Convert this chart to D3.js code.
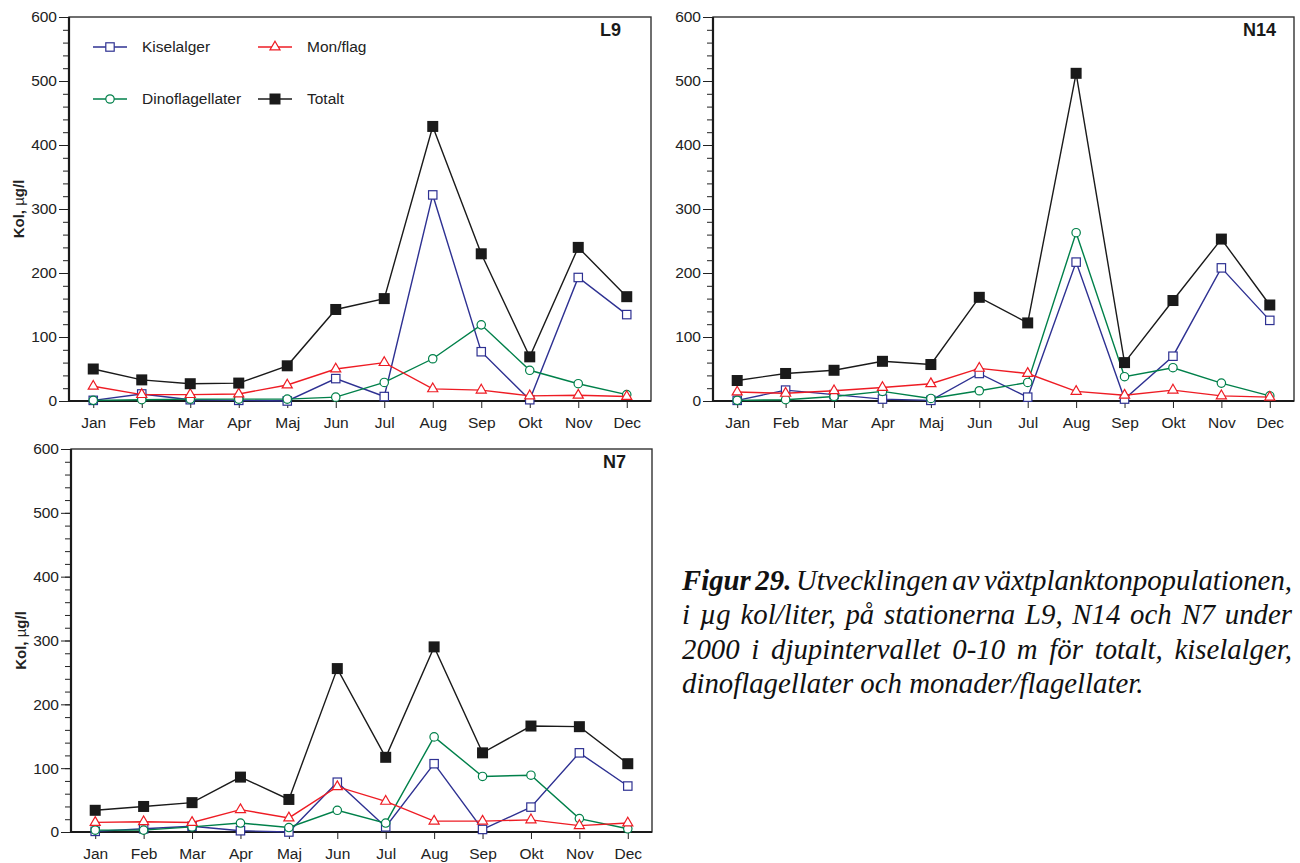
<!DOCTYPE html>
<html>
<head>
<meta charset="utf-8">
<script src="https://cdn.jsdelivr.net/npm/d3@7"></script>
<style>
  html, body { margin: 0; padding: 0; background: #fff; }
  svg { display: block; }
  .tick text { font-family: "Liberation Sans", Arial, sans-serif; font-size: 15.5px; fill: #222; }
</style>
</head>
<body>
<svg id="chart" width="1300" height="863"></svg>
<script>
// ---- data -------------------------------------------------------------
const months = ["Jan", "Feb", "Mar", "Apr", "Maj", "Jun", "Jul", "Aug", "Sep", "Okt", "Nov", "Dec"];
const seriesNames = ["Kiselalger", "Mon/flag", "Dinoflagellater", "Totalt"];
const yMajorTicks = [0, 100, 200, 300, 400, 500, 600];
const yMinorTicks = d3.range(0, 601, 20);

// Station L9 (µg C/l)
const l9Kisel = [1, 11, 2, 1, 0, 35, 7, 322, 77, 2, 193, 135];
const l9Mon   = [23, 10, 10, 11, 25, 50, 60, 19, 17, 8, 9, 7];
const l9Dino  = [1, 2, 3, 3, 3, 6, 29, 66, 119, 48, 27, 10];
const l9Tot   = [50, 33, 27, 28, 55, 143, 160, 429, 230, 69, 240, 163];

// Station N14
const n14Kisel = [1, 17, 10, 3, 1, 43, 6, 217, 3, 70, 208, 126];
const n14Mon   = [14, 12, 16, 21, 27, 51, 43, 15, 9, 17, 8, 6];
const n14Dino  = [1, 2, 7, 15, 4, 16, 29, 263, 38, 52, 28, 8];
const n14Tot   = [32, 43, 48, 62, 57, 162, 122, 512, 60, 157, 253, 150];

// Station N7
const n7Kisel = [1, 5, 9, 2, 0, 78, 8, 107, 4, 39, 124, 72];
const n7Mon   = [15, 16, 15, 35, 22, 71, 48, 17, 17, 19, 10, 14];
const n7Dino  = [3, 3, 8, 14, 7, 34, 14, 149, 87, 89, 21, 5];
const n7Tot   = [34, 40, 46, 86, 51, 256, 117, 290, 124, 166, 165, 107];

const stations = [
  { name: "L9",  series: [l9Kisel, l9Mon, l9Dino, l9Tot] },
  { name: "N14", series: [n14Kisel, n14Mon, n14Dino, n14Tot] },
  { name: "N7",  series: [n7Kisel, n7Mon, n7Dino, n7Tot] }
];

const captionLines = [
  [{ t: "Figur 29.", b: true }, { t: " Utvecklingen av växtplanktonpopulationen," }],
  [{ t: "i µg kol/liter, på stationerna L9, N14 och N7 under" }],
  [{ t: "2000 i djupintervallet 0-10 m för totalt, kiselalger," }],
  [{ t: "dinoflagellater och monader/flagellater." }]
];

// ---- layout & style ---------------------------------------------------
const layout = [
  { x: 69,  y: 17,  w: 582, h: 384, yTitle: true,  legend: true,  titleEnd: 30 },
  { x: 713, y: 17,  w: 581, h: 384, yTitle: false, legend: false, titleEnd: 18 },
  { x: 71,  y: 449, w: 581, h: 383, yTitle: true,  legend: false, titleEnd: 26 }
];

const styles = [
  { color: "#2e3192", shape: "openSquare" },
  { color: "#ee1c24", shape: "triangle" },
  { color: "#00804a", shape: "circle" },
  { color: "#1a1a1a", shape: "filledSquare" }
];
const drawOrder = [0, 2, 1, 3];

const FONT = '"Liberation Sans", Arial, sans-serif';
const svg = d3.select("#chart");

function drawMarker(g, shape, color, cx, cy) {
  if (shape === "filledSquare") {
    g.append("rect").attr("x", cx - 5.5).attr("y", cy - 5.5)
      .attr("width", 11).attr("height", 11).attr("fill", color);
  } else if (shape === "openSquare") {
    g.append("rect").attr("x", cx - 4.2).attr("y", cy - 4.2)
      .attr("width", 8.4).attr("height", 8.4)
      .attr("fill", "#fff").attr("stroke", color).attr("stroke-width", 1.2);
  } else if (shape === "circle") {
    g.append("circle").attr("cx", cx).attr("cy", cy).attr("r", 4.2)
      .attr("fill", "#fff").attr("stroke", color).attr("stroke-width", 1.2);
  } else {
    g.append("path")
      .attr("d", d3.symbol(d3.symbolTriangle, 44)())
      .attr("transform", `translate(${cx},${cy})`)
      .attr("fill", "#fff").attr("stroke", color).attr("stroke-width", 1.2);
  }
}

stations.forEach((st, i) => {
  const L = layout[i];
  const g = svg.append("g").attr("transform", `translate(${L.x},${L.y})`);

  const x = d3.scalePoint().domain(months).range([0, L.w]).padding(0.5);
  const y = d3.scaleLinear().domain([0, 600]).range([L.h, 0]);

  // minor y ticks
  g.append("g")
    .call(d3.axisLeft(y).tickValues(yMinorTicks).tickSize(6).tickFormat(""))
    .call(a => a.select(".domain").remove())
    .call(a => a.selectAll("line").attr("stroke", "#222"));
  // major y ticks with labels
  g.append("g")
    .call(d3.axisLeft(y).tickValues(yMajorTicks).tickSize(10).tickPadding(2))
    .call(a => a.select(".domain").remove())
    .call(a => a.selectAll("line").attr("stroke", "#222"));
  // x axis
  g.append("g").attr("transform", `translate(0,${L.h})`)
    .call(d3.axisBottom(x).tickSize(7).tickPadding(9))
    .call(a => a.select(".domain").remove())
    .call(a => a.selectAll("line").attr("stroke", "#222"));

  // frame
  g.append("rect").attr("x", 0).attr("y", 0).attr("width", L.w).attr("height", L.h)
    .attr("fill", "none").attr("stroke", "#333").attr("stroke-width", 1.4);
  g.append("line").attr("x1", 0).attr("x2", 0).attr("y1", 0).attr("y2", L.h)
    .attr("stroke", "#1a1a1a").attr("stroke-width", 2.2);
  g.append("line").attr("x1", -1).attr("x2", L.w).attr("y1", L.h).attr("y2", L.h)
    .attr("stroke", "#1a1a1a").attr("stroke-width", 2.2);

  // series
  const line = d3.line().x((d, k) => x(months[k])).y(d => y(d));
  drawOrder.forEach(si => {
    const vals = st.series[si];
    const s = styles[si];
    const sg = g.append("g");
    sg.append("path").datum(vals).attr("d", line)
      .attr("fill", "none").attr("stroke", s.color).attr("stroke-width", 1.4);
    vals.forEach((v, k) => drawMarker(sg, s.shape, s.color, x(months[k]), y(v)));
  });

  // station label
  g.append("text").attr("x", L.w - L.titleEnd).attr("y", 19)
    .attr("text-anchor", "end")
    .attr("font-family", FONT).attr("font-size", 18).attr("font-weight", "bold")
    .attr("fill", "#1a1a1a").text(st.name);

  // y-axis title
  if (L.yTitle) {
    const t = g.append("text")
      .attr("transform", `translate(${-45},${L.h / 2}) rotate(-90)`)
      .attr("text-anchor", "middle")
      .attr("font-family", FONT).attr("font-size", 15).attr("font-weight", "bold")
      .attr("fill", "#222");
    t.append("tspan").text("Kol, ");
    t.append("tspan").attr("font-weight", "normal").text("µ");
    t.append("tspan").text("g/l");
  }

  // legend
  if (L.legend) {
    const slots = [[24, 30], [189, 30], [24, 82], [189, 82]];
    seriesNames.forEach((name, si) => {
      const [lx, ly] = slots[si];
      const s = styles[si];
      const lg = g.append("g");
      lg.append("line").attr("x1", lx).attr("x2", lx + 34).attr("y1", ly).attr("y2", ly)
        .attr("stroke", s.color).attr("stroke-width", 1.4);
      drawMarker(lg, s.shape, s.color, lx + 17, ly);
      lg.append("text").attr("x", lx + 49).attr("y", ly).attr("dy", "0.35em")
        .attr("font-family", FONT).attr("font-size", 15.5).attr("fill", "#222").text(name);
    });
  }
});

// ---- caption (justified) ----------------------------------------------
const capX = 682, capRight = 1292, capBase = 590, capLead = 34.3;
captionLines.forEach((parts, li) => {
  const t = svg.append("text")
    .attr("x", capX).attr("y", capBase + li * capLead)
    .attr("font-family", '"Liberation Serif", "Times New Roman", serif')
    .attr("font-size", 28.8).attr("font-style", "italic").attr("fill", "#111");
  parts.forEach(p => {
    t.append("tspan").attr("font-weight", p.b ? "bold" : "normal").text(p.t);
  });
  if (li < captionLines.length - 1) {
    const full = parts.map(p => p.t).join("");
    const spaces = (full.match(/ /g) || []).length;
    const natural = t.node().getComputedTextLength();
    const target = capRight - capX;
    const ws = (target - natural) / spaces;
    if (ws >= -3.5) {
      t.attr("word-spacing", ws);
    } else {
      t.attr("textLength", target).attr("lengthAdjust", "spacingAndGlyphs");
    }
  }
});
</script>
</body>
</html>
